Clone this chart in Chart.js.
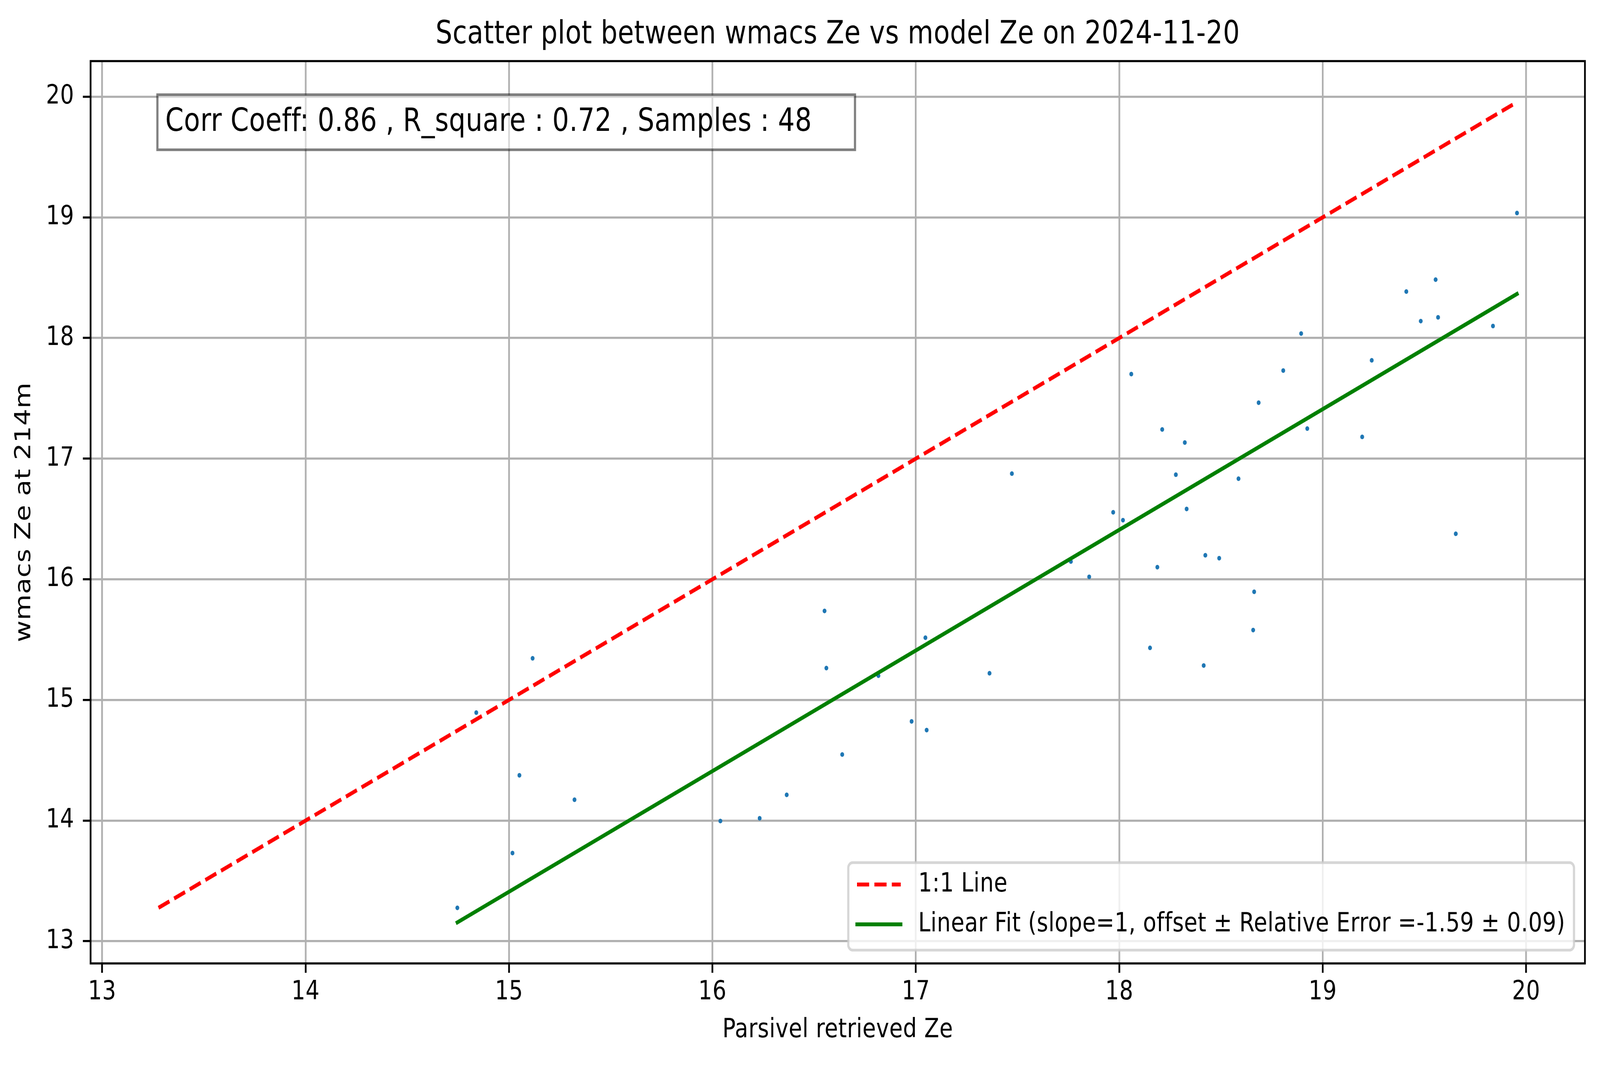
<!DOCTYPE html>
<html>
<head>
<meta charset="utf-8">
<script src="https://cdn.jsdelivr.net/npm/chart.js@4.4.1/dist/chart.umd.min.js"></script>
<style>
  html, body { margin: 0; padding: 0; background: #fff; overflow: hidden; }
  canvas { display: block; }
</style>
</head>
<body>
<canvas id="scatterChart" width="4981" height="2726" style="width:100vw;height:100vh"></canvas>
<script>
// values
const parsivelZe = [
  19.955, 19.555, 19.411, 19.482, 19.567, 19.837, 18.894, 19.241, 18.806, 18.059,
  18.685, 18.924, 18.211, 19.194, 18.322, 18.278, 18.586, 17.970, 18.018, 18.331,
  19.654, 18.423, 18.491, 17.762, 18.187, 17.852, 18.663, 18.658, 18.151, 18.415,
  17.472, 16.551, 17.047, 15.116, 16.560, 16.816, 17.362, 14.839, 16.979, 17.053,
  16.638, 15.051, 15.322, 16.365, 16.039, 16.232, 15.017, 14.746
];
const wmacsZe = [
  19.036, 18.484, 18.385, 18.140, 18.171, 18.099, 18.037, 17.815, 17.730, 17.701,
  17.464, 17.249, 17.242, 17.180, 17.133, 16.867, 16.834, 16.555, 16.490, 16.583,
  16.377, 16.199, 16.175, 16.147, 16.100, 16.020, 15.896, 15.579, 15.432, 15.285,
  16.876, 15.738, 15.516, 15.345, 15.264, 15.201, 15.221, 14.895, 14.822, 14.750,
  14.548, 14.375, 14.173, 14.213, 13.996, 14.019, 13.731, 13.277
];
const fitSlope = 1;
const fitOffset = -1.59;
const xTicks = [13, 14, 15, 16, 17, 18, 19, 20];
const yTicks = [13, 14, 15, 16, 17, 18, 19, 20];
const statsText = 'Corr Coeff: 0.86 , R_square : 0.72 , Samples : 48';
const lineLabels = ['1:1 Line', 'Linear Fit (slope=1, offset \u00b1 Relative Error =-1.59 \u00b1 0.09)'];

const points = parsivelZe.map((x, i) => ({ x: x, y: wmacsZe[i] }));
const xMin = Math.min(...parsivelZe), xMax = Math.max(...parsivelZe);
const lo = Math.min(xMin, ...wmacsZe), hi = Math.max(xMax, ...wmacsZe);
const oneToOne = [{ x: lo, y: lo }, { x: hi, y: hi }];
const fitLine = [xMin, xMax].map(x => ({ x: x, y: fitSlope * x + fitOffset }));

// matplotlib-like auto limits (5% margin)
const xs = [lo, hi, xMin, xMax], ys = [lo, hi, fitLine[0].y, fitLine[1].y];
const xLo = Math.min(...xs), xHi = Math.max(...xs);
const yLo = Math.min(...ys), yHi = Math.max(...ys);

Chart.defaults.font.family = 'DejaVu Sans';
Chart.defaults.color = '#000';

const frameAndNotes = {
  id: 'frameAndNotes',
  beforeDraw(chart) {
    // matplotlib lays glyphs out a touch wider than the browser does
    chart.ctx.letterSpacing = '0.7px';
  },
  afterDatasetsDraw(chart) {
    const { ctx, chartArea: a } = chart;
    ctx.save();
    ctx.strokeStyle = '#000';
    ctx.lineWidth = 5.4;
    ctx.strokeRect(a.left, a.top, a.right - a.left, a.bottom - a.top);
    ctx.restore();
  },
  afterDraw(chart) {
    const { ctx, chartArea: a } = chart;
    const w = a.right - a.left, h = a.bottom - a.top;

    // stats box
    ctx.save();
    const fs = 82;
    ctx.font = fs + 'px "DejaVu Sans"';
    const tx = a.left + 0.05 * w;
    const ty = a.bottom - 0.95 * h;
    const tw = ctx.measureText(statsText).width;
    const pad = 0.3 * fs;
    ctx.fillStyle = 'rgba(255,255,255,0.5)';
    ctx.strokeStyle = 'rgba(0,0,0,0.5)';
    ctx.lineWidth = 6.8;
    ctx.beginPath();
    ctx.rect(tx - pad, ty - 0.36 * fs, tw + pad + 134, 1.72 * fs);
    ctx.fill();
    ctx.stroke();
    ctx.fillStyle = '#000';
    ctx.textBaseline = 'alphabetic';
    ctx.fillText(statsText, tx, ty + 0.775 * fs);
    ctx.restore();

    // legend, lower right inside the axes
    ctx.save();
    const lfs = 68;
    ctx.font = lfs + 'px "DejaVu Sans"';
    const sets = chart.data.datasets.filter(d => d.type === 'line');
    const maxW = Math.max(...sets.map(d => ctx.measureText(d.label).width));
    const bp = 0.4 * lfs, hl = 2 * lfs, htp = 0.8 * lfs;
    const bw = bp + hl + htp + maxW + bp;
    const right = a.right - 0.5 * lfs, bottom = a.bottom - 0.5 * lfs;
    const bh = 224;
    const left = right - bw, top = bottom - bh;
    ctx.fillStyle = 'rgba(255,255,255,0.8)';
    ctx.strokeStyle = 'rgba(204,204,204,0.8)';
    ctx.lineWidth = 6.8;
    ctx.beginPath();
    ctx.roundRect(left, top, bw, bh, 0.2 * lfs);
    ctx.fill();
    ctx.stroke();
    const rows = [bottom - 168, bottom - 66];
    sets.forEach((d, i) => {
      const y = rows[i];
      ctx.beginPath();
      ctx.strokeStyle = d.borderColor;
      ctx.lineWidth = d.borderWidth;
      ctx.lineCap = d.borderCapStyle;
      ctx.setLineDash(d.borderDash || []);
      ctx.moveTo(left + bp, y);
      ctx.lineTo(left + bp + hl, y);
      ctx.stroke();
      ctx.setLineDash([]);
      ctx.fillStyle = '#000';
      ctx.textBaseline = 'middle';
      ctx.fillText(d.label, left + bp + hl + htp, y);
    });
    ctx.restore();
  }
};

new Chart(document.getElementById('scatterChart'), {
  type: 'scatter',
  data: {
    datasets: [
      {
        type: 'scatter',
        label: 'data',
        data: points,
        pointRadius: 6,
        pointBorderWidth: 0,
        pointBackgroundColor: '#1f77b4',
        order: 3
      },
      {
        type: 'line',
        label: lineLabels[0],
        data: oneToOne,
        borderColor: '#ff0000',
        borderWidth: 10.2,
        borderDash: [37.8, 16.3],
        borderCapStyle: 'butt',
        pointRadius: 0,
        fill: false,
        order: 2
      },
      {
        type: 'line',
        label: lineLabels[1],
        data: fitLine,
        borderColor: '#008000',
        borderWidth: 10.2,
        borderCapStyle: 'square',
        pointRadius: 0,
        fill: false,
        order: 1
      }
    ]
  },
  options: {
    responsive: false,
    devicePixelRatio: 1,
    animation: false,
    events: [],
    layout: { autoPadding: false, padding: { left: 0, right: 47, top: 0, bottom: 0 } },
    plugins: {
      legend: { display: false },
      tooltip: { enabled: false },
      title: {
        display: true,
        fullSize: false,
        text: 'Scatter plot between wmacs Ze vs model Ze on 2024-11-20',
        color: '#000',
        font: { size: 82, weight: 'normal' },
        padding: { top: 41, bottom: 17 }
      }
    },
    scales: {
      x: {
        type: 'linear',
        min: xLo - 0.05 * (xHi - xLo),
        max: xHi + 0.05 * (xHi - xLo),
        afterBuildTicks: s => { s.ticks = xTicks.map(v => ({ value: v })); },
        afterFit: s => { s.height = 260; },
        border: { display: false },
        grid: { color: '#b0b0b0', lineWidth: 5.4, tickLength: 24, tickColor: '#000', tickWidth: 5.4 },
        ticks: { padding: 10, font: { size: 68 }, color: '#000', callback: v => String(v) },
        title: {
          display: true,
          text: 'Parsivel retrieved Ze',
          font: { size: 68 },
          color: '#000',
          padding: { top: 0, bottom: 48 }
        }
      },
      y: {
        type: 'linear',
        min: yLo - 0.05 * (yHi - yLo),
        max: yHi + 0.05 * (yHi - yLo),
        afterBuildTicks: s => { s.ticks = yTicks.map(v => ({ value: v })); },
        afterFit: s => { s.width = 282; },
        border: { display: false },
        grid: { color: '#b0b0b0', lineWidth: 5.4, tickLength: 24, tickColor: '#000', tickWidth: 5.4 },
        ticks: { padding: 27, font: { size: 68 }, color: '#000', callback: v => String(v) },
        title: {
          display: true,
          text: 'wmacs Ze at 214m',
          font: { size: 68 },
          color: '#000',
          padding: { top: 36, bottom: 0 }
        }
      }
    }
  },
  plugins: [frameAndNotes]
});
</script>
</body>
</html>
